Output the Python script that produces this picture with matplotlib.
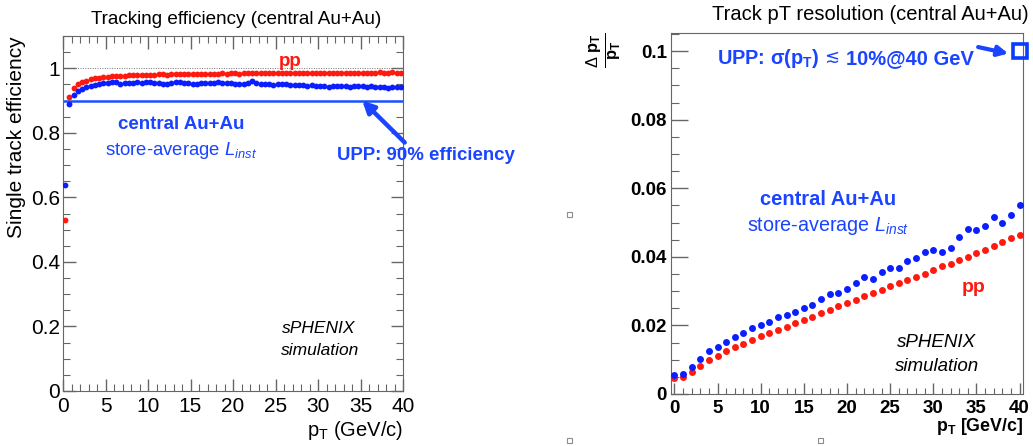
import numpy as np
import matplotlib
matplotlib.use("Agg")
import matplotlib.pyplot as plt
from matplotlib.ticker import MultipleLocator, FuncFormatter
from matplotlib.patches import Rectangle

plt.rcParams['font.family'] = ['Liberation Sans', 'DejaVu Sans']
plt.rcParams['mathtext.fontset'] = 'custom'
plt.rcParams['mathtext.rm'] = 'Liberation Sans'
plt.rcParams['mathtext.it'] = 'Liberation Sans:italic'
plt.rcParams['mathtext.bf'] = 'Liberation Sans:bold'
plt.rcParams['mathtext.default'] = 'regular'

BLUE = '#0a1eff'
TBLUE = '#1a44ff'
RED = '#ff1a10'

# ---- left panel: single track efficiency vs pT (0.5 GeV bins)
eff_pt = np.arange(0.25, 40, 0.5)
eff_pp = [0.530, 0.910, 0.940, 0.950, 0.957, 0.962, 0.966, 0.969, 0.971, 0.973,
          0.974, 0.975, 0.976, 0.977, 0.977, 0.978, 0.978, 0.979, 0.979, 0.980,
          0.980, 0.980, 0.981, 0.981, 0.980, 0.981, 0.982, 0.981, 0.982, 0.982,
          0.982, 0.983, 0.982, 0.983, 0.983, 0.982, 0.983, 0.984, 0.983, 0.984,
          0.984, 0.983, 0.984, 0.985, 0.984, 0.984, 0.985, 0.984, 0.985, 0.984,
          0.985, 0.985, 0.984, 0.985, 0.986, 0.985, 0.985, 0.984, 0.985, 0.986,
          0.985, 0.986, 0.985, 0.985, 0.986, 0.985, 0.986, 0.986, 0.985, 0.986,
          0.986, 0.985, 0.986, 0.986, 0.987, 0.986, 0.986, 0.987, 0.986, 0.986]
eff_auau = [0.637, 0.890, 0.918, 0.930, 0.937, 0.942, 0.946, 0.949, 0.951, 0.953,
            0.954, 0.957, 0.959, 0.952, 0.954, 0.955, 0.953, 0.956, 0.955, 0.957,
            0.956, 0.955, 0.954, 0.952, 0.951, 0.955, 0.957, 0.956, 0.955, 0.954,
            0.952, 0.951, 0.954, 0.955, 0.954, 0.955, 0.956, 0.955, 0.954, 0.953,
            0.952, 0.951, 0.950, 0.953, 0.961, 0.954, 0.952, 0.951, 0.950, 0.949,
            0.951, 0.952, 0.950, 0.948, 0.947, 0.948, 0.947, 0.946, 0.947, 0.945,
            0.944, 0.944, 0.943, 0.944, 0.945, 0.946, 0.944, 0.942, 0.944, 0.946,
            0.945, 0.943, 0.944, 0.941, 0.943, 0.942, 0.940, 0.943, 0.941, 0.941]
upp_eff = 0.9

# ---- right panel: momentum resolution vs pT
res_pt = np.arange(0, 41, 1)
res_auau = [0.0055, 0.0058, 0.0079, 0.0102, 0.0126, 0.0138, 0.0151, 0.0165, 0.0177, 0.0193,
            0.0200, 0.0210, 0.0226, 0.0231, 0.0239, 0.0250, 0.0259, 0.0277, 0.0292, 0.0294,
            0.0306, 0.0325, 0.0340, 0.0335, 0.0355, 0.0368, 0.0367, 0.0389, 0.0396, 0.0415,
            0.0421, 0.0413, 0.0425, 0.0457, 0.0482, 0.0479, 0.0490, 0.0516, 0.0500, 0.0522,
            0.0550]
res_pp = [0.0047, 0.0049, 0.0065, 0.0081, 0.0098, 0.0111, 0.0124, 0.0137, 0.0147, 0.0157,
          0.0168, 0.0178, 0.0187, 0.0196, 0.0207, 0.0216, 0.0225, 0.0236, 0.0246, 0.0257,
          0.0266, 0.0275, 0.0285, 0.0295, 0.0304, 0.0314, 0.0323, 0.0333, 0.0341, 0.0351,
          0.0362, 0.0372, 0.0380, 0.0391, 0.0401, 0.0410, 0.0420, 0.0433, 0.0443, 0.0454,
          0.0463]
upp_res_pt = [40]
upp_res = [0.1]

fig = plt.figure(figsize=(10.33, 4.46), dpi=100)
W, H = 1033, 446


def px(x0, y0, x1, y1):
    return [x0 / W, 1 - y1 / H, (x1 - x0) / W, (y1 - y0) / H]


def ftext(x, y, s, **kw):
    # place text at pixel position (from top-left)
    return fig.text(x / W, 1 - y / H, s, **kw)


fmt = FuncFormatter(lambda v, p: '%g' % round(v, 4))
frame_c = '0.4'

# ================= left =================
ax1 = fig.add_axes(px(63, 36, 403, 391))
ax1.plot(eff_pt, eff_pp, 'o', color=RED, ms=4.2, mec='none', zorder=3)
ax1.plot(eff_pt, eff_auau, 'o', color=BLUE, ms=4.2, mec='none', zorder=3)
ax1.axhline(1.0, color='0.45', lw=0.7, ls=(0, (1, 1.5)), zorder=1)
ax1.axhline(upp_eff, color='#1a50ff', lw=1.8, zorder=2)
ax1.set_xlim(0, 40)
ax1.set_ylim(0, 1.1)
ax1.xaxis.set_major_locator(MultipleLocator(5))
ax1.xaxis.set_minor_locator(MultipleLocator(1))
ax1.yaxis.set_major_locator(MultipleLocator(0.2))
ax1.yaxis.set_minor_locator(MultipleLocator(0.05))
ax1.yaxis.set_major_formatter(fmt)
ax1.tick_params(which='both', direction='in', top=True, right=True, colors=frame_c,
                labelcolor='black', labelsize=15)
ax1.tick_params(which='major', length=9, width=1)
ax1.tick_params(which='minor', length=5, width=0.8)
ax1.tick_params(axis='y', pad=2)
ax1.tick_params(axis='x', pad=4)
for s in ax1.spines.values():
    s.set_color(frame_c)
ax1.text(1.0, -0.11, '$p_T$ (GeV/c)', transform=ax1.transAxes, ha='right', va='center',
         fontsize=14.5)
ax1.text(-0.138, 0.715, 'Single track efficiency', transform=ax1.transAxes, rotation=90,
         ha='center', va='center', fontsize=15)
ax1.text(26.7, 1.02, 'pp', color=RED, fontsize=13.5, fontweight='bold', ha='center', va='center')
ax1.text(13.9, 0.827, 'central Au+Au', color=TBLUE, fontsize=13.5, fontweight='bold',
         ha='center', va='center')
ax1.text(13.9, 0.745, r'store-average $\mathit{L}_{\mathit{inst}}$', color=TBLUE, fontsize=13.3,
         ha='center', va='center')
ax1.text(30.1, 0.195, 'sPHENIX', fontsize=12.5, style='italic', ha='center', va='center')
ax1.text(30.2, 0.127, 'simulation', fontsize=12.5, style='italic', ha='center', va='center')
ax1.annotate('', xy=(35.2, 0.9), xytext=(40.2, 0.77), annotation_clip=False,
             arrowprops=dict(arrowstyle='-|>,head_length=0.7,head_width=0.35', color=TBLUE,
                             lw=3.2, shrinkA=0, shrinkB=0))
ftext(337, 155, 'UPP: 90% efficiency', color=TBLUE, fontsize=13.4,
      fontweight='bold', ha='left', va='center')
ftext(236, 19, 'Tracking efficiency (central Au+Au)', fontsize=13.6, ha='center', va='center')

# ================= right =================
ax2 = fig.add_axes(px(671, 33, 1023, 394))
ax2.plot(res_pt, res_pp, 'o', color=RED, ms=5, mec='none', zorder=3)
ax2.plot(res_pt, res_auau, 'o', color=BLUE, ms=5, mec='none', zorder=3)
ax2.plot(upp_res_pt, upp_res, 's', ms=9.5, mfc='none', mec='#0a3cff', mew=2.6, clip_on=False,
         zorder=4)
ax2.set_xlim(-0.4, 40.4)
ax2.set_ylim(0, 0.1053)
ax2.xaxis.set_major_locator(MultipleLocator(5))
ax2.xaxis.set_minor_locator(MultipleLocator(1))
ax2.yaxis.set_major_locator(MultipleLocator(0.02))
ax2.yaxis.set_minor_locator(MultipleLocator(0.005))
ax2.yaxis.set_major_formatter(fmt)
ax2.tick_params(which='both', direction='in', colors=frame_c, labelcolor='black',
                labelsize=13.5)
ax2.tick_params(axis='y', which='major', length=12, width=1, pad=3)
ax2.tick_params(axis='y', which='minor', length=6, width=0.8)
ax2.tick_params(axis='x', which='major', length=8, width=1, pad=4)
ax2.tick_params(axis='x', which='minor', length=4, width=0.8)
for lab in ax2.get_xticklabels() + ax2.get_yticklabels():
    lab.set_fontweight('bold')
for s in ax2.spines.values():
    s.set_color(frame_c)
ax2.text(1.0, -0.091, r'$\mathbf{p_T}$ [GeV/c]', transform=ax2.transAxes, ha='right',
         va='center', fontsize=12.8, fontweight='bold')
ftext(604, 50, r'$\frac{\Delta\ \mathbf{p_T}}{\mathbf{p_T}}$', rotation=90,
      ha='center', va='center', fontsize=17)
ax2.text(34.7, 0.031, 'pp', color=RED, fontsize=14, fontweight='bold', ha='center', va='center')
ax2.text(17.8, 0.0567, 'central Au+Au', color=TBLUE, fontsize=14.5, fontweight='bold',
         ha='center', va='center')
ax2.text(17.8, 0.0491, r'store-average $\mathit{L}_{\mathit{inst}}$', color=TBLUE,
         fontsize=14.2, ha='center', va='center')
ax2.text(30.4, 0.0149, 'sPHENIX', fontsize=13.5, style='italic', ha='center', va='center')
ax2.text(30.4, 0.0079, 'simulation', fontsize=13.5, style='italic', ha='center', va='center')
ftext(717, 64, r'UPP: σ(p$_\mathbf{T}$)', color=TBLUE, fontsize=14.3, fontweight='bold',
      ha='left', va='baseline')
ftext(824, 62, '≲', color=TBLUE, fontsize=13, family='DejaVu Sans', ha='left', va='baseline')
ftext(846, 64, '10%@40 GeV', color=TBLUE, fontsize=14.5, fontweight='bold',
      ha='left', va='baseline')
ax2.annotate('', xy=(38.7, 0.0993), xytext=(35.2, 0.1012), annotation_clip=False,
             arrowprops=dict(arrowstyle='-|>,head_length=0.6,head_width=0.3', color=TBLUE,
                             lw=3, shrinkA=0, shrinkB=0))
ftext(870, 15, 'Track pT resolution (central Au+Au)', fontsize=14.5, ha='center', va='center')

# small leftover placeholder boxes from the slide
for bx, by in [(570, 215), (570, 440), (820, 440)]:
    fig.add_artist(Rectangle((bx / W - 2.5 / W, 1 - by / H - 2.5 / H), 5 / W, 5 / H,
                             transform=fig.transFigure, fill=False, ec='0.55', lw=0.8))

fig.savefig('out.png', dpi=100)
